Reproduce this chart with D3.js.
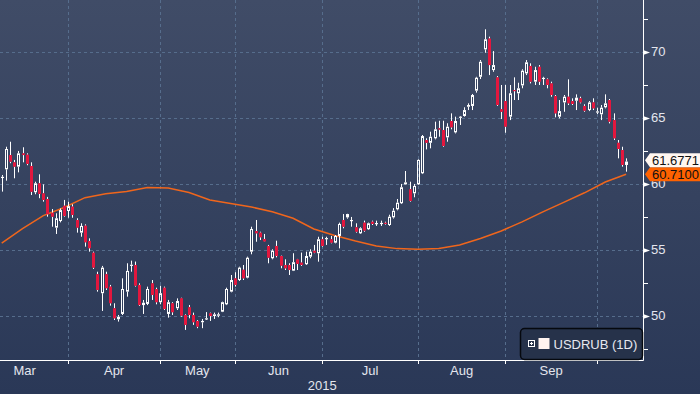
<!DOCTYPE html>
<html>
<head>
<meta charset="utf-8">
<script src="https://cdn.jsdelivr.net/npm/d3@7"></script>
<style>
  html, body { margin: 0; padding: 0; background: #2b3958; }
  svg { display: block; }
</style>
</head>
<body>
<script>
const WIDTH = 700, HEIGHT = 394;
const PLOT_RIGHT = 643, PLOT_BOTTOM = 360;

// USDRUB daily sessions, index 0 = first visible session (10 Mar 2015)
const opens = [60.45,61.09,62.17,61.62,61.29,62.30,62.20,61.34,59.35,60.03,
  59.27,58.84,57.80,56.67,57.17,58.33,57.93,58.26,57.25,56.29,
  56.82,55.66,54.77,53.14,51.70,53.14,52.20,50.56,49.73,50.13,
  51.82,53.81,53.84,52.33,50.80,50.89,52.45,52.02,51.02,52.12,
  50.13,50.94,50.56,51.32,50.05,50.64,50.05,49.60,49.50,49.73,
  50.18,49.97,50.00,50.30,50.86,51.82,52.83,52.70,53.48,52.88,
  54.85,56.41,56.29,55.81,55.28,54.35,55.28,54.52,53.84,53.84,
  53.41,54.27,54.02,53.90,54.47,54.92,54.73,55.79,55.80,55.79,
  55.53,56.04,57.25,57.45,57.20,56.70,56.24,57.05,56.55,57.12,
  56.98,56.98,57.04,56.87,57.45,58.06,58.52,59.95,59.58,59.27,
  59.95,60.79,63.31,63.10,63.44,64.20,64.07,63.51,64.75,63.89,
  65.00,65.13,65.83,65.89,67.05,68.10,70.18,71.00,68.61,68.06,
  65.64,66.26,65.08,67.10,66.85,67.45,68.36,68.92,67.73,68.86,
  67.95,67.91,67.60,66.64,65.08,66.16,66.59,66.26,66.29,66.47,
  65.89,65.58,66.16,65.40,65.26,65.79,66.34,64.82,63.10,62.55,
  61.42];
const highs = [60.66,62.80,63.18,61.80,62.48,62.76,62.30,61.62,60.15,60.71,
  59.95,59.00,58.08,57.76,58.13,58.77,58.64,58.44,57.38,57.00,
  56.92,55.86,54.85,53.33,53.77,53.33,52.33,50.94,50.05,52.83,
  53.97,54.17,54.10,52.45,51.19,52.20,52.70,52.12,52.27,52.20,
  51.19,51.02,51.31,51.36,50.10,50.81,50.23,49.67,49.75,50.27,
  50.23,50.23,50.23,51.06,52.12,53.08,53.29,53.71,53.84,54.47,
  56.74,57.25,56.36,56.19,55.36,55.03,55.68,54.55,54.27,53.97,
  54.73,54.30,54.78,54.85,55.03,55.36,55.98,55.98,55.98,56.04,
  56.11,57.05,57.70,57.72,57.48,57.00,56.70,57.20,57.05,57.20,
  57.20,57.20,57.12,57.65,58.15,58.84,59.98,60.96,60.15,59.98,
  61.85,63.69,63.44,63.94,64.70,64.77,64.77,64.58,65.33,65.08,
  65.13,65.79,66.09,66.80,68.10,69.37,71.70,71.14,70.05,68.16,
  67.48,67.48,67.48,68.06,67.65,68.67,69.37,69.12,68.86,68.99,
  68.10,67.98,67.73,66.72,66.34,66.72,67.91,66.47,66.77,66.59,
  66.02,66.26,66.47,65.76,65.96,66.77,66.42,65.33,63.31,62.80,
  61.92];
const lows = [59.40,60.23,61.55,60.41,60.86,61.62,61.40,59.14,59.20,58.90,
  58.64,57.50,56.74,56.19,57.07,57.50,57.42,57.42,56.29,55.98,
  55.23,54.85,53.54,51.82,50.36,51.95,50.76,49.67,49.55,50.05,
  51.44,53.33,52.20,50.73,50.13,50.80,51.19,50.86,50.86,50.43,
  49.85,50.05,50.43,49.92,48.92,49.80,49.30,49.05,49.05,49.67,
  49.60,49.75,49.88,50.27,50.80,51.77,52.20,52.63,52.70,52.83,
  54.65,55.60,55.73,55.60,53.97,54.27,54.42,53.59,53.46,53.08,
  53.38,53.46,53.77,53.84,54.35,54.73,54.09,55.23,55.36,55.48,
  55.48,55.10,56.62,57.35,56.74,56.29,56.19,56.36,56.50,56.87,
  56.80,56.80,56.90,56.80,57.36,57.98,58.46,59.92,58.64,58.97,
  59.90,60.73,62.60,62.68,63.36,63.56,62.80,63.18,64.12,63.81,
  64.45,65.08,65.58,65.58,66.90,67.93,69.92,68.23,68.48,65.89,
  64.90,63.86,64.82,66.34,66.34,67.23,68.23,67.60,67.48,67.48,
  67.48,67.23,66.59,65.03,64.95,65.45,65.96,65.96,65.58,66.09,
  65.45,65.50,65.58,65.28,64.82,65.71,64.57,63.31,61.92,61.29,
  60.91];
const closes = [60.52,62.63,61.67,61.29,62.30,62.17,61.50,59.39,60.03,59.22,
  58.77,57.68,57.50,57.38,58.00,57.55,58.30,57.63,56.67,56.80,
  55.56,55.11,53.64,51.95,53.64,52.08,50.94,49.80,49.92,52.02,
  53.39,53.86,52.27,50.80,50.98,52.02,51.57,51.02,51.70,50.50,
  51.02,50.26,51.11,50.00,49.30,50.05,49.50,49.17,49.60,49.80,
  49.97,50.10,50.10,51.02,52.02,52.70,52.33,53.64,52.83,54.39,
  56.57,56.24,55.94,55.62,54.39,54.92,54.52,53.79,53.59,53.46,
  54.05,53.92,53.84,54.52,54.85,54.77,55.79,55.28,55.88,55.53,
  56.04,56.95,56.74,57.70,57.25,56.36,56.62,56.44,57.00,56.95,
  57.02,57.03,56.98,57.50,57.95,58.56,59.73,60.10,58.69,59.83,
  61.80,63.61,63.10,63.56,64.12,64.10,62.86,64.32,64.27,64.75,
  65.08,65.58,65.96,66.72,68.03,69.24,70.94,68.99,68.99,65.96,
  65.45,64.32,66.85,67.03,67.23,68.56,69.20,67.73,68.61,67.73,
  68.02,67.48,66.72,65.33,65.50,66.59,66.09,66.04,66.52,66.16,
  65.53,66.16,65.71,65.48,65.76,66.09,64.70,63.44,62.63,61.42,
  61.6771];

// moving average, read every 5 sessions
const maIndex = [0,5,10,15,20,25,30,35,40,45,50,55,60,65,70,75,
  80,85,90,95,100,105,110,115,120,125,130,135,140,145,150];
const maValues = [55.49,56.59,57.58,58.20,58.94,59.24,59.41,59.71,59.67,59.33,
  58.77,58.50,58.23,57.88,57.38,56.57,56.08,55.66,55.28,55.08,
  55.03,55.09,55.36,55.85,56.42,57.11,57.86,58.58,59.31,60.13,60.71];

// first session of each month (Mar starts before the visible range)
const monthStarts = [-5, 16, 38, 56, 77, 100, 121, 143];
const monthLabels = ["Mar", "Apr", "May", "Jun", "Jul", "Aug", "Sep"];
const yearLabel = "2015";

const yTicks = [50, 55, 60, 65, 70];
const yMinorTicks = [47.5, 52.5, 57.5, 62.5, 67.5, 72.5];

const seriesName = "USDRUB (1D)";
const lastMa = 60.71;

const UP = "#ffffff", DOWN = "#e3173e", MA_COLOR = "#f0661c";
const GRID = "#566d8c";
const FONT = "'Liberation Sans', Arial, sans-serif";

const svg = d3.select("body")
    .append("svg")
    .attr("width", WIDTH)
    .attr("height", HEIGHT);

const grad = svg.append("defs")
    .append("linearGradient")
    .attr("id", "bg")
    .attr("x1", 0).attr("y1", 0).attr("x2", 0).attr("y2", 1);
grad.append("stop").attr("offset", "0%").attr("stop-color", "#404c67");
grad.append("stop").attr("offset", "100%").attr("stop-color", "#2a3857");

svg.append("rect")
    .attr("width", WIDTH)
    .attr("height", HEIGHT)
    .attr("fill", "url(#bg)");

const x = d3.scaleLinear().domain([0, 150]).range([1.7, 626.1]);
const y = d3.scaleLinear().domain([46.64, 73.92]).range([PLOT_BOTTOM, 0]);
const px = i => Math.round(x(i)) + 0.5;

//grid
const grid = svg.append("g").attr("class", "grid")
    .attr("stroke", GRID)
    .attr("stroke-width", 1)
    .attr("stroke-dasharray", "3,3");

grid.selectAll("line.h")
    .data(yTicks)
    .enter().append("line")
    .attr("class", "h")
    .attr("x1", 0).attr("x2", PLOT_RIGHT)
    .attr("y1", d => Math.round(y(d)) + 0.5)
    .attr("y2", d => Math.round(y(d)) + 0.5);

grid.selectAll("line.v")
    .data(monthStarts.filter(d => d >= 0))
    .enter().append("line")
    .attr("class", "v")
    .attr("y1", 0).attr("y2", PLOT_BOTTOM)
    .attr("x1", d => px(d))
    .attr("x2", d => px(d));

//moving average
const maLine = d3.line()
    .x((d, i) => x(maIndex[i]))
    .y(d => y(d));

svg.append("path")
    .datum(maValues)
    .attr("d", maLine)
    .attr("fill", "none")
    .attr("stroke", MA_COLOR)
    .attr("stroke-width", 1.5);

//candles
const candles = svg.append("g").attr("class", "candles")
    .selectAll("g")
    .data(closes.map((c, i) => ({ i: i, o: opens[i], h: highs[i], l: lows[i], c: c })))
    .enter().append("g");

candles.each(function (d) {
    const g = d3.select(this);
    const cx = px(d.i);
    const top = y(Math.max(d.o, d.c));
    const bot = y(Math.min(d.o, d.c));
    g.append("line")
        .attr("x1", cx).attr("x2", cx)
        .attr("y1", y(d.h)).attr("y2", top)
        .attr("stroke", "#ffffff");
    g.append("line")
        .attr("x1", cx).attr("x2", cx)
        .attr("y1", bot).attr("y2", y(d.l))
        .attr("stroke", "#ffffff");

    if (d.c < d.o) {
        g.append("rect")
            .attr("x", cx - 1.5)
            .attr("y", top)
            .attr("width", 3)
            .attr("height", Math.max(1.2, bot - top))
            .attr("fill", DOWN);
    } else if (bot - top < 2.5) {
        g.append("rect")
            .attr("x", cx - 1.5)
            .attr("y", top)
            .attr("width", 3)
            .attr("height", Math.max(1.2, bot - top))
            .attr("fill", UP);
    } else {
        g.append("rect")
            .attr("x", cx - 1)
            .attr("y", top + 0.5)
            .attr("width", 2)
            .attr("height", bot - top - 1)
            .attr("fill", "none")
            .attr("stroke", UP)
            .attr("stroke-width", 1);
    }
});

//axes
const axes = svg.append("g").attr("class", "axes");

axes.append("line")
    .attr("x1", PLOT_RIGHT + 0.5).attr("x2", PLOT_RIGHT + 0.5)
    .attr("y1", 0).attr("y2", PLOT_BOTTOM + 0.5)
    .attr("stroke", "#ffffff");
axes.append("line")
    .attr("x1", 0).attr("x2", PLOT_RIGHT + 0.5)
    .attr("y1", PLOT_BOTTOM + 0.5).attr("y2", PLOT_BOTTOM + 0.5)
    .attr("stroke", "#ffffff");

axes.selectAll("path.ytick")
    .data(yTicks)
    .enter().append("path")
    .attr("class", "ytick")
    .attr("d", d => {
        const yy = Math.round(y(d)) + 0.5;
        return `M${PLOT_RIGHT},${yy - 2.5}L${PLOT_RIGHT + 7},${yy}L${PLOT_RIGHT},${yy + 2.5}Z`;
    })
    .attr("fill", "#ffffff");

axes.selectAll("line.yminor")
    .data(yMinorTicks)
    .enter().append("line")
    .attr("class", "yminor")
    .attr("x1", PLOT_RIGHT).attr("x2", PLOT_RIGHT + 5)
    .attr("y1", d => Math.round(y(d)) + 0.5)
    .attr("y2", d => Math.round(y(d)) + 0.5)
    .attr("stroke", "#ffffff");

axes.selectAll("text.ylabel")
    .data(yTicks)
    .enter().append("text")
    .attr("class", "ylabel")
    .attr("x", PLOT_RIGHT + 8)
    .attr("y", d => y(d))
    .attr("dy", "0.36em")
    .attr("fill", "#e4e6ee")
    .attr("font-family", FONT)
    .attr("font-size", 13)
    .text(d => d);

axes.selectAll("line.xtick")
    .data(monthStarts.filter(d => d >= 0))
    .enter().append("line")
    .attr("class", "xtick")
    .attr("x1", d => px(d)).attr("x2", d => px(d))
    .attr("y1", PLOT_BOTTOM).attr("y2", PLOT_BOTTOM + 4)
    .attr("stroke", "#ffffff");

axes.selectAll("text.xlabel")
    .data(monthLabels)
    .enter().append("text")
    .attr("class", "xlabel")
    .attr("x", (d, i) => x((monthStarts[i] + monthStarts[i + 1]) / 2))
    .attr("y", 375)
    .attr("text-anchor", "middle")
    .attr("fill", "#e4e6ee")
    .attr("font-family", FONT)
    .attr("font-size", 13)
    .text(d => d);

axes.append("text")
    .attr("x", x(77))
    .attr("y", 390)
    .attr("text-anchor", "middle")
    .attr("fill", "#e4e6ee")
    .attr("font-family", FONT)
    .attr("font-size", 13)
    .text(yearLabel);

//last value tags
const lastClose = closes[closes.length - 1];
const maY = y(lastMa);
const closeY = Math.min(y(lastClose), maY - 14);

function tag(cy, fill, label) {
    const g = svg.append("g");
    g.append("path")
        .attr("d", `M${PLOT_RIGHT + 2},${cy}L${PLOT_RIGHT + 7},${cy - 7}L${WIDTH},${cy - 7}L${WIDTH},${cy + 7}L${PLOT_RIGHT + 7},${cy + 7}Z`)
        .attr("fill", fill);
    g.append("text")
        .attr("x", PLOT_RIGHT + 9)
        .attr("y", cy)
        .attr("dy", "0.36em")
        .attr("fill", "#101010")
        .attr("font-family", FONT)
        .attr("font-size", 13)
        .text(label);
}
tag(maY, "#ff6200", lastMa.toFixed(4));
tag(closeY, "#fff6f0", lastClose.toFixed(4));

//legend
const legend = svg.append("g").attr("transform", "translate(520.5,328.5)");
legend.append("rect")
    .attr("width", 122)
    .attr("height", 31)
    .attr("rx", 4)
    .attr("fill", "#26324a")
    .attr("stroke", "#05080e")
    .attr("stroke-width", 1.5);
legend.append("rect")
    .attr("x", 8).attr("y", 12)
    .attr("width", 6).attr("height", 6)
    .attr("fill", "none")
    .attr("stroke", "#ffffff");
legend.append("path")
    .attr("d", "M9.5,15H12.5M11,13.5V16.5")
    .attr("stroke", "#ffffff");
legend.append("rect")
    .attr("x", 18).attr("y", 9.5)
    .attr("width", 11).attr("height", 11)
    .attr("fill", "#fff3ef");
legend.append("text")
    .attr("x", 33)
    .attr("y", 15.5)
    .attr("dy", "0.36em")
    .attr("fill", "#e6e8f0")
    .attr("font-family", FONT)
    .attr("font-size", 13)
    .text(seriesName);
</script>
</body>
</html>
